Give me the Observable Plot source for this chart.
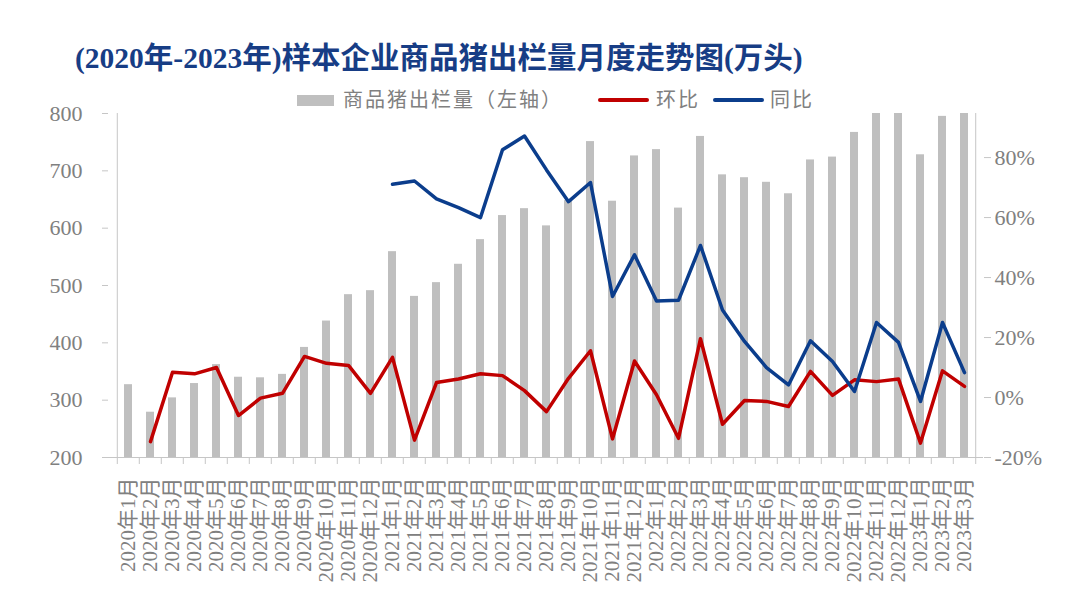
<!DOCTYPE html>
<html><head><meta charset="utf-8">
<script src="https://cdn.jsdelivr.net/npm/d3@7"></script>
<script src="https://cdn.jsdelivr.net/npm/@observablehq/plot@0.6"></script>
<style>
body{margin:0;background:#fff;width:1080px;height:615px;position:relative;overflow:hidden;}
#chart{position:absolute;left:0;top:0}
#title{position:absolute;left:75px;top:38px;font:bold 29.5px "Liberation Serif","Noto Sans CJK SC";color:#173d85;white-space:nowrap;line-height:40px}
.lg{position:absolute;top:89px;font:20px "Liberation Serif","Noto Sans CJK SC";color:#808080;line-height:22px;letter-spacing:2px;white-space:nowrap}
.sw{position:absolute}
</style></head><body>
<div id="chart"></div>
<div id="title">(2020年-2023年)样本企业商品猪出栏量月度走势图(万头)</div>
<div class="sw" style="left:297px;top:95px;width:37px;height:11px;background:#bfbfbf"></div>
<div class="lg" id="lg0" style="left:343px"></div>
<div class="sw" style="left:598px;top:98px;width:51px;height:4px;border-radius:2px;background:#c00000"></div>
<div class="lg" id="lg1" style="left:656px"></div>
<div class="sw" style="left:713px;top:98px;width:51px;height:4px;border-radius:2px;background:#0b3d8c"></div>
<div class="lg" id="lg2" style="left:770px"></div>
<script>
const months = [
  "2020年1月","2020年2月","2020年3月","2020年4月","2020年5月","2020年6月","2020年7月","2020年8月","2020年9月","2020年10月","2020年11月","2020年12月",
  "2021年1月","2021年2月","2021年3月","2021年4月","2021年5月","2021年6月","2021年7月","2021年8月","2021年9月","2021年10月","2021年11月","2021年12月",
  "2022年1月","2022年2月","2022年3月","2022年4月","2022年5月","2022年6月","2022年7月","2022年8月","2022年9月","2022年10月","2022年11月","2022年12月",
  "2023年1月","2023年2月","2023年3月"
];
// 商品猪出栏量 (万头)
const output = [
  327,279,304,329,362,340,339,345,392,438,484,491,
  559,481,505,537,580,622,634,604,648,751,647,726,
  737,635,760,693,688,680,660,719,724,767,808,858,
  728,795,824
];
// 环比 (%), from 2020年2月
const mom = [
  -14.7,8.4,7.9,10.0,-6.0,-0.2,1.4,13.7,11.4,10.7,1.4,
  13.4,-14.2,5.0,6.2,7.9,7.3,2.3,-4.7,6.4,15.6,-13.8,12.2,
  0.9,-13.6,19.6,-8.9,-1.0,-1.3,-3.0,8.7,0.7,5.9,5.3,6.2,
  -15.2,8.9,3.7
];
// 同比 (%), from 2021年1月
const yoy = [
  71.1,72.2,66.2,63.3,60.0,82.6,87.2,75.9,65.3,71.7,33.7,47.6,
  32.2,32.4,50.7,29.2,18.7,10.0,4.2,18.9,12.0,2.0,25.0,18.4,
  -1.3,25.0,8.3
];
const leftTicks = [200,300,400,500,600,700,800];
const rightTicks = [-20,0,20,40,60,80];
const legendLabels = ["商品猪出栏量（左轴）","环比","同比"];

legendLabels.forEach((t,i)=>document.getElementById("lg"+i).textContent=t);

const pMin = -20, pMax = 94.7;
const toLeft = p => 200 + (p - pMin) * 600 / (pMax - pMin);
const fromLeft = v => (v - 200) * (pMax - pMin) / 600 + pMin;

const barData = months.map((m,i)=>({m, v: output[i]}));
const momData = mom.map((v,i)=>({m: months[i+1], v}));
const yoyData = yoy.map((v,i)=>({m: months[i+12], v}));

const W = 1080, H = 615, mL = 108, mR = 97, mT = 113, mB = 158;
const step = (W - mL - mR) / months.length;
const axisGray = "#c6c6c6", textGray = "#808080";

const chart = Plot.plot({
  width: W, height: H,
  marginLeft: mL, marginRight: mR, marginTop: mT, marginBottom: mB,
  style: {fontFamily: "'Liberation Serif','Noto Sans CJK SC',serif", background: "#fff"},
  x: {type: "band", domain: months, paddingInner: 0.64, paddingOuter: 0.32, label: null},
  y: {domain: [200, 800], label: null},
  marks: [
    Plot.barY(barData, {x: "m", y1: 200, y2: "v", fill: "#bfbfbf", clip: true}),
    Plot.ruleY([200], {stroke: axisGray}),
    Plot.ruleX([months[0]], {x: d=>d, y1: 200, y2: 800, dx: -step/2, stroke: axisGray}),
    Plot.ruleX([months[months.length-1]], {x: d=>d, y1: 200, y2: 800, dx: step/2, stroke: axisGray}),
    Plot.ruleX(months, {x: d=>d, y1: 200, y2: 200, insetBottom: -7, dx: -step/2, stroke: axisGray}),
    Plot.ruleX([months[months.length-1]], {x: d=>d, y1: 200, y2: 200, insetBottom: -7, dx: step/2, stroke: axisGray}),
    Plot.line(momData, {x: "m", y: d=>toLeft(d.v), stroke: "#c00000", strokeWidth: 3.5, strokeLinejoin: "round"}),
    Plot.line(yoyData, {x: "m", y: d=>toLeft(d.v), stroke: "#0b3d8c", strokeWidth: 3.5, strokeLinejoin: "round"}),
    Plot.axisY(leftTicks, {anchor: "left", label: null, tickSize: 6, tickPadding: 20, fontSize: 22, stroke: axisGray, fill: textGray}),
    Plot.axisY(rightTicks.map(toLeft), {anchor: "right", label: null, tickSize: 7, tickPadding: 4, fontSize: 22, stroke: axisGray, fill: textGray,
      tickFormat: d => Math.round(fromLeft(d)) + "%"}),
    Plot.axisX({label: null, tickSize: 0, tickRotate: -90, tickPadding: 20, fontSize: 21, fill: textGray})
  ]
});
document.getElementById("chart").appendChild(chart);
</script>
</body></html>
